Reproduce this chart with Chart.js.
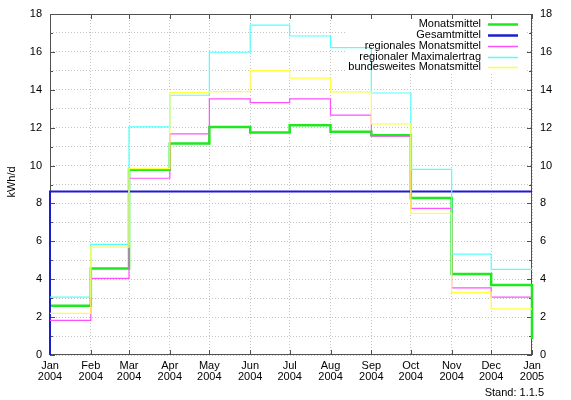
<!DOCTYPE html>
<html>
<head>
<meta charset="utf-8">
<script src="https://cdn.jsdelivr.net/npm/chart.js@4/dist/chart.umd.min.js"></script>
<style>
  html, body { margin: 0; padding: 0; background: #fff; }
  #wrap { width: 571px; height: 400px; position: relative; }
</style>
</head>
<body>
<div id="wrap"><canvas id="c" width="571" height="400"></canvas></div>
<script>
// Month boundaries shown on the time axis
const monthStarts = ['2004-01-01','2004-02-01','2004-03-01','2004-04-01','2004-05-01','2004-06-01',
                     '2004-07-01','2004-08-01','2004-09-01','2004-10-01','2004-11-01','2004-12-01','2005-01-01'];
const monthNames = ['Jan','Feb','Mar','Apr','May','Jun','Jul','Aug','Sep','Oct','Nov','Dec','Jan'];
const yearNames  = ['2004','2004','2004','2004','2004','2004','2004','2004','2004','2004','2004','2004','2005'];

// Daily yield in kWh/d, one value per month (Monatsmittel also has the start of Jan 2005)
const monatsmittel = [2.60, 4.56, 9.78, 11.16, 12.04, 11.74, 12.13, 11.79, 11.60, 8.29, 4.28, 3.70, 0.85];
const gesamtmittel = 8.63;
const regionalesMonatsmittel = [1.83, 4.05, 9.33, 11.67, 13.52, 13.32, 13.52, 12.66, 11.55, 7.74, 3.54, 3.06];
const regionalerMaximalertrag = [3.05, 5.84, 12.04, 13.71, 15.98, 17.41, 16.84, 16.23, 13.83, 9.80, 5.33, 4.52];
const bundesweitesMonatsmittel = [2.20, 5.69, 9.84, 13.85, 13.90, 15.01, 14.61, 13.89, 12.20, 7.48, 3.31, 2.44];

const yTicks = [0, 2, 4, 6, 8, 10, 12, 14, 16, 18];

const DAY = 86400000;
const t0 = Date.parse(monthStarts[0]);
const dayPos = monthStarts.map(s => Math.round((Date.parse(s) - t0) / DAY));
const xEnd = dayPos[dayPos.length - 1];

// step series: each value holds from its month start to the next boundary
function steps(values) {
  const pts = values.map((v, i) => ({ x: dayPos[i], y: v }));
  if (values.length < dayPos.length) pts.push({ x: dayPos[values.length], y: values[values.length - 1] });
  return pts;
}

const FONT = { family: '"Liberation Sans", Arial, sans-serif', size: 11, lineHeight: 1.05 };

const datasets = [
  { label: 'Monatsmittel', data: steps(monatsmittel), borderColor: '#1ee81e', borderWidth: 2.5, order: 4 },
  { label: 'Gesamtmittel', data: [{ x: 0, y: 0 }, { x: 0, y: gesamtmittel }, { x: xEnd, y: gesamtmittel }],
    borderColor: '#1c1cd0', borderWidth: 2, order: 3 },
  { label: 'regionales Monatsmittel', data: steps(regionalesMonatsmittel), borderColor: '#ff50ff', borderWidth: 1.2, order: 2 },
  { label: 'regionaler Maximalertrag', data: steps(regionalerMaximalertrag), borderColor: '#50ffff', borderWidth: 1.2, order: 1 },
  { label: 'bundesweites Monatsmittel', data: steps(bundesweitesMonatsmittel), borderColor: '#ffff40', borderWidth: 1.2, order: 0 }
].map(d => Object.assign(d, { stepped: 'before', pointRadius: 0, fill: false, clip: 4, tension: 0 }));

// key box, frame, inward tick marks and extra texts
const decor = {
  id: 'decor',
  beforeDatasetsDraw(chart) {
    const { ctx, chartArea: a, scales } = chart;
    ctx.save();
    // white key area hides the grid
    ctx.fillStyle = '#fff';
    ctx.fillRect(345, 17, 181, 57);
    // frame
    ctx.strokeStyle = '#505050';
    ctx.lineWidth = 1;
    ctx.strokeRect(Math.round(a.left) + 0.5, Math.round(a.top) + 0.5,
                   Math.round(a.right - a.left) - 1, Math.round(a.bottom - a.top) - 1);
    // tick marks pointing inward
    ctx.beginPath();
    dayPos.forEach(d => {
      const x = Math.round(scales.x.getPixelForValue(d)) + 0.5;
      ctx.moveTo(x, a.bottom); ctx.lineTo(x, a.bottom - 5);
      ctx.moveTo(x, a.top); ctx.lineTo(x, a.top + 5);
    });
    for (let v = 0; v <= 18; v++) {
      const y = Math.round(scales.y.getPixelForValue(v)) + 0.5;
      const len = v % 2 === 0 ? 5 : 3;
      ctx.moveTo(a.left, y); ctx.lineTo(a.left + len, y);
      ctx.moveTo(a.right, y); ctx.lineTo(a.right - len, y);
    }
    ctx.stroke();
    ctx.restore();
  },
  afterDraw(chart) {
    const { ctx } = chart;
    ctx.save();
    ctx.font = '11px "Liberation Sans", Arial, sans-serif';
    ctx.fillStyle = '#000';
    ctx.textBaseline = 'middle';
    // key
    chart.data.datasets.forEach((d, i) => {
      const y = 24 + i * 10.85;
      ctx.textAlign = 'right';
      ctx.fillText(d.label, 481, y);
      ctx.strokeStyle = d.borderColor;
      ctx.lineWidth = d.borderWidth >= 2 ? 2.5 : 1.5;
      ctx.beginPath();
      ctx.moveTo(488, Math.round(y) + 0.5);
      ctx.lineTo(518, Math.round(y) + 0.5);
      ctx.stroke();
    });
    // axis title
    ctx.save();
    ctx.translate(12, 182);
    ctx.rotate(-Math.PI / 2);
    ctx.textAlign = 'center';
    ctx.fillText('kWh/d', 0, 0);
    ctx.restore();
    // version stamp
    ctx.textAlign = 'right';
    ctx.fillText('Stand: 1.1.5', 544, 393);
    ctx.restore();
  }
};

const yAxis = (pos, width) => ({
  type: 'linear',
  position: pos,
  min: 0, max: 18,
  afterBuildTicks: s => { s.ticks = []; for (let v = 0; v <= 18; v++) s.ticks.push({ value: v }); },
  afterFit: s => { s.width = width; },
  grid: { display: pos === 'left', color: '#c4c4c4', lineWidth: 1, drawTicks: false },
  border: { display: false, dash: [1, 2] },
  ticks: {
    padding: 8, color: '#000', font: FONT,
    callback: v => (yTicks.includes(v) ? String(v) : '')
  }
});

new Chart(document.getElementById('c'), {
  type: 'line',
  data: { datasets },
  plugins: [decor],
  options: {
    responsive: false,
    animation: false,
    events: [],
    layout: { padding: { top: 14, left: 0, right: 0, bottom: 0 } },
    plugins: { legend: { display: false }, tooltip: { enabled: false } },
    scales: {
      x: {
        type: 'linear',
        min: 0, max: xEnd,
        afterBuildTicks: s => { s.ticks = dayPos.map(v => ({ value: v })); },
        afterFit: s => { s.height = 45; },
        grid: { color: '#c4c4c4', lineWidth: 1, drawTicks: false },
        border: { display: false, dash: [1, 2] },
        ticks: {
          autoSkip: false, maxRotation: 0, padding: 5, color: '#000', font: FONT,
          callback: v => { const i = dayPos.indexOf(v); return i < 0 ? '' : [monthNames[i], yearNames[i]]; }
        }
      },
      y: yAxis('left', 50),
      y2: yAxis('right', 39)
    }
  }
});
</script>
</body>
</html>
